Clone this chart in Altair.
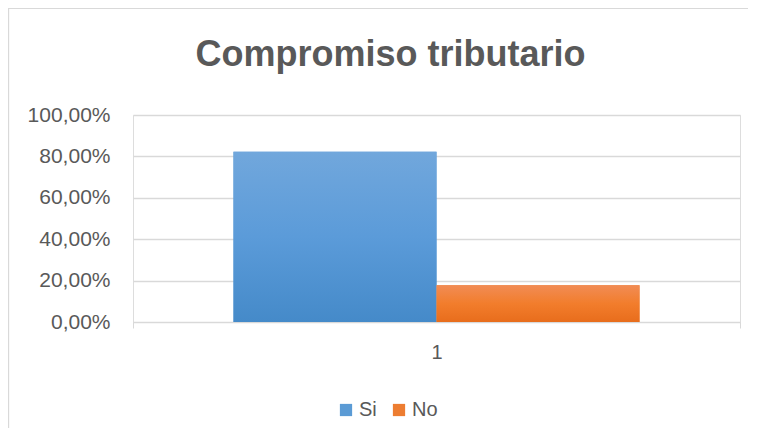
import altair as alt
import pandas as pd

categoria = ["1", "1"]
serie = ["Si", "No"]
valor = [0.822, 0.178]

df = pd.DataFrame({"categoria": categoria, "serie": serie, "valor": valor})

FONT = "Liberation Sans"
GRAY = "#595959"
LINE = "#d9d9d9"

blue_grad = {"gradient": "linear", "x1": 0, "y1": 0, "x2": 0, "y2": 1,
             "stops": [{"offset": 0, "color": "#71a7dc"}, {"offset": 0.5, "color": "#5b9bd9"},
                       {"offset": 1, "color": "#458ac9"}]}
orange_grad = {"gradient": "linear", "x1": 0, "y1": 0, "x2": 0, "y2": 1,
               "stops": [{"offset": 0, "color": "#f18c55"}, {"offset": 0.5, "color": "#f27d2c"},
                         {"offset": 1, "color": "#e86d1c"}]}

x_enc = alt.X("categoria:N", title=None,
              scale=alt.Scale(paddingInner=0, paddingOuter=0),
              axis=alt.Axis(labelAngle=0, labelFont=FONT, labelFontSize=20, labelColor=GRAY,
                            domainColor=LINE, tickColor=LINE, tickBand="extent", tickSize=6,
                            labelPadding=14, grid=False))
y_enc = alt.Y("valor:Q", title=None,
              scale=alt.Scale(domain=[0, 1]),
              axis=alt.Axis(values=[0, 0.2, 0.4, 0.6, 0.8, 1.0],
                            labelExpr="replace(format(datum.value, '.2%'), '.', ',')",
                            labelFont=FONT, labelFontSize=21, labelColor=GRAY,
                            ticks=False, domain=False, gridColor=LINE, gridWidth=1.3,
                            labelPadding=23))
xo_enc = alt.XOffset("serie:N", sort=serie,
                     scale=alt.Scale(paddingInner=0, paddingOuter=0.495))

base = alt.Chart(df).mark_bar().encode(
    x=x_enc, y=y_enc, xOffset=xo_enc,
    color=alt.Color("serie:N", sort=serie,
                    scale=alt.Scale(domain=serie, range=["#5b9bd5", "#ed7d31"]),
                    legend=alt.Legend(title=None, orient="none", direction="horizontal",
                                      legendX=203, legendY=285, symbolType="square",
                                      symbolSize=150, symbolStrokeWidth=0,
                                      labelFont=FONT, labelFontSize=20, labelColor=GRAY,
                                      columnPadding=12, labelOffset=3)),
)

grad = alt.Chart(df).mark_bar().encode(
    x=x_enc, y=y_enc, xOffset=xo_enc,
    fill=alt.condition(alt.datum.serie == "Si", alt.value(blue_grad), alt.value(orange_grad)),
)

border = alt.Chart(df).mark_rect(fill=None, stroke=LINE, strokeWidth=1.2, clip=False).encode(
    x=alt.value(-124.5), x2=alt.value(616.5), y=alt.value(-106.5), y2=alt.value(330)
)

chart = alt.layer(border, base, grad).properties(
    width=607, height=207,
    autosize=alt.AutoSizeParams(type="none"),
    padding={"left": 125, "top": 107, "right": 8, "bottom": 106},
    title=alt.TitleParams("Compromiso tributario", font=FONT, fontSize=36, fontWeight="bold",
                          color=GRAY, anchor="middle", frame="group", dx=-46, offset=-66),
).configure_view(stroke=None).configure(background="white")

chart.save("out.html", embed_options={"renderer": "svg", "actions": False})
